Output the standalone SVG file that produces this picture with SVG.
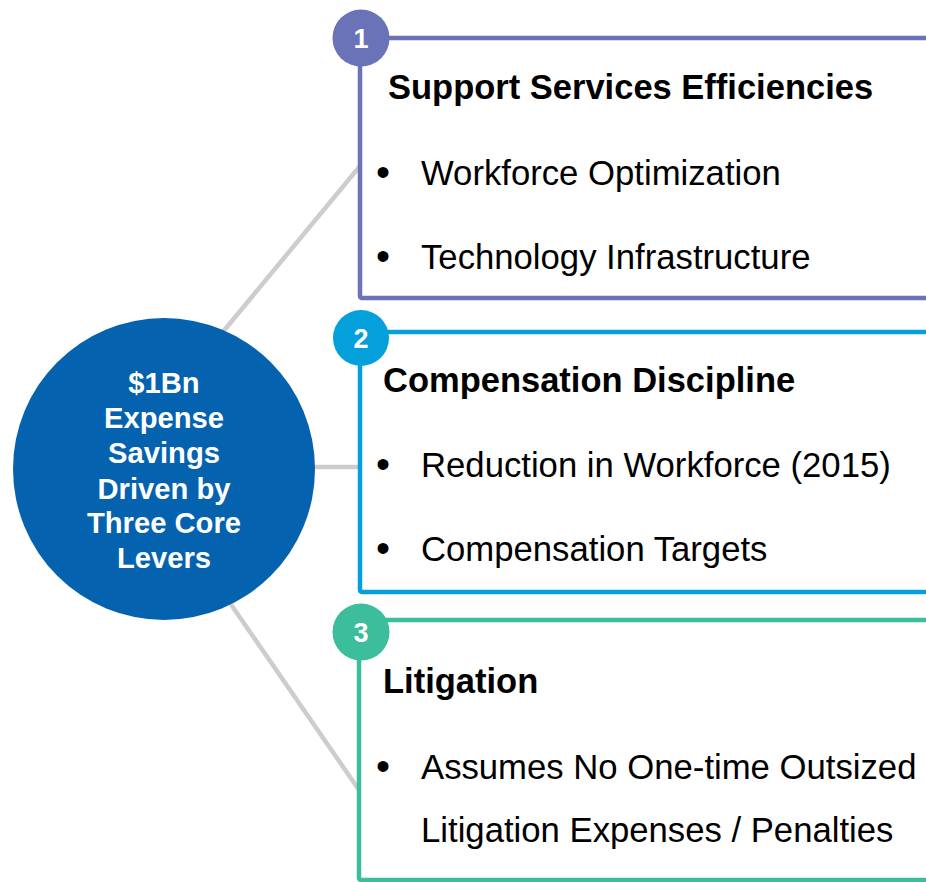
<svg xmlns="http://www.w3.org/2000/svg" width="926" height="882" viewBox="0 0 926 882">
<style>
.conn{stroke:#CDCDD0;stroke-width:4.5;fill:none}
.box{fill:#FFFFFF;stroke-width:4.5}
.title{font-family:"Liberation Sans",Arial,sans-serif;font-weight:bold;font-size:34.5px;fill:#000}
.item{font-family:"Liberation Sans",Arial,sans-serif;font-size:34.7px;fill:#000}
.dot{font-family:"Liberation Sans",Arial,sans-serif;font-size:40px;fill:#000;text-anchor:middle}
.num{font-family:"Liberation Sans",Arial,sans-serif;font-weight:bold;font-size:27px;fill:#FFF;text-anchor:middle}
.hub{font-family:"Liberation Sans",Arial,sans-serif;font-weight:bold;font-size:29.2px;fill:#FFF;text-anchor:middle}
</style>
<rect width="926" height="882" fill="#FFFFFF"/>
<g id="connectors">
<line class="conn" x1="222" y1="333" x2="360" y2="166"/>
<line class="conn" x1="300" y1="467" x2="360" y2="467"/>
<line class="conn" x1="230" y1="603" x2="359" y2="790"/>
</g>
<g id="hub">
<circle cx="164" cy="469" r="151" fill="#0562AE"/>
<text class="hub" x="164" y="393">$1Bn</text>
<text class="hub" x="164" y="428">Expense</text>
<text class="hub" x="164" y="463">Savings</text>
<text class="hub" x="164" y="499">Driven by</text>
<text class="hub" x="164" y="533">Three Core</text>
<text class="hub" x="164" y="568">Levers</text>
</g>
<g id="lever1">
<rect class="box" x="360" y="38" width="620" height="260" rx="2" stroke="#6A72B8"/>
<circle cx="361" cy="38" r="28.5" fill="#6A72B8"/>
<text class="num" x="361" y="48">1</text>
<text class="title" x="388" y="99">Support Services Efficiencies</text>
<text class="dot" x="383" y="186">•</text>
<text class="item" x="421" y="185">Workforce Optimization</text>
<text class="dot" x="383" y="270">•</text>
<text class="item" x="421" y="269">Technology Infrastructure</text>
</g>
<g id="lever2">
<rect class="box" x="360" y="332" width="620" height="260" rx="2" stroke="#04A0DC"/>
<circle cx="361" cy="338" r="28" fill="#04A0DC"/>
<text class="num" x="361" y="348">2</text>
<text class="title" x="383" y="392">Compensation Discipline</text>
<text class="dot" x="383" y="478">•</text>
<text class="item" x="421" y="477">Reduction in Workforce (2015)</text>
<text class="dot" x="383" y="562">•</text>
<text class="item" x="421" y="561">Compensation Targets</text>
</g>
<g id="lever3">
<rect class="box" x="359" y="620" width="620" height="260" rx="2" stroke="#3CBD9C"/>
<circle cx="361" cy="632" r="28.5" fill="#3CBD9C"/>
<text class="num" x="361" y="642">3</text>
<text class="title" x="383" y="693">Litigation</text>
<text class="dot" x="383" y="780">•</text>
<text class="item" x="421" y="779">Assumes No One-time Outsized</text>
<text class="item" x="421" y="842">Litigation Expenses / Penalties</text>
</g>
</svg>
